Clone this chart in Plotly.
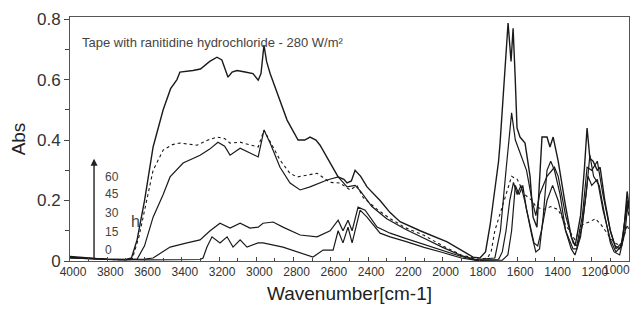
import plotly.graph_objects as go

# ---- data ----
wn_60 = [4000, 3950, 3900, 3850, 3800, 3750, 3700, 3670, 3640, 3600, 3554, 3500, 3460, 3426, 3410, 3340, 3300, 3250, 3211, 3185,
         3152, 3130, 3104, 3060, 3018, 2990, 2975, 2959, 2945, 2926, 2889, 2835, 2776, 2740, 2712, 2680, 2658, 2604, 2561, 2530,
         2513, 2490, 2470, 2440, 2406, 2336, 2282, 2229, 2121, 1976, 1900, 1837, 1800, 1770, 1745, 1730, 1700, 1692, 1665, 1649,
         1633, 1622, 1611, 1601, 1585, 1558, 1531, 1515, 1494, 1467, 1440, 1424, 1407, 1380, 1340, 1310, 1289, 1260, 1240, 1225,
         1210, 1193, 1170, 1155, 1130, 1100, 1075, 1050, 1030, 1010, 1000]
abs_60 = [0.015, 0.012, 0.010, 0.008, 0.006, 0.005, 0.005, 0.010, 0.070, 0.200, 0.377, 0.500, 0.570, 0.600, 0.625, 0.630, 0.635, 0.660, 0.674, 0.665,
          0.608, 0.625, 0.630, 0.625, 0.620, 0.598, 0.620, 0.714, 0.660, 0.620, 0.555, 0.466, 0.400, 0.400, 0.410, 0.400, 0.383, 0.324, 0.278, 0.270,
          0.258, 0.265, 0.300, 0.280, 0.245, 0.200, 0.160, 0.130, 0.100, 0.063, 0.035, 0.013, 0.010, 0.030, 0.120, 0.190, 0.330, 0.390, 0.660, 0.787,
          0.660, 0.770, 0.610, 0.440, 0.410, 0.390, 0.280, 0.145, 0.112, 0.410, 0.410, 0.377, 0.410, 0.330, 0.180, 0.080, 0.050, 0.150, 0.300, 0.440,
          0.340, 0.330, 0.300, 0.310, 0.200, 0.100, 0.050, 0.040, 0.080, 0.230, 0.180]

wn_45 = [4000, 3900, 3800, 3700, 3665, 3630, 3600, 3554, 3500, 3450, 3410, 3318, 3260, 3211, 3170, 3141, 3087, 3034, 2990, 2959,
         2930, 2873, 2820, 2781, 2720, 2674, 2604, 2551, 2497, 2460, 2427, 2350, 2282, 2200, 2100, 2000, 1900, 1800, 1760, 1740,
         1720, 1700, 1660, 1630, 1600, 1560, 1520, 1500, 1460, 1420, 1380, 1340, 1290, 1250, 1210, 1180, 1150, 1100, 1080, 1040,
         1010, 1000]
abs_45 = [0.012, 0.008, 0.005, 0.004, 0.008, 0.080, 0.170, 0.300, 0.367, 0.385, 0.390, 0.383, 0.400, 0.410, 0.405, 0.390, 0.393, 0.383, 0.377, 0.433,
          0.400, 0.334, 0.290, 0.278, 0.285, 0.290, 0.260, 0.258, 0.235, 0.250, 0.210, 0.170, 0.140, 0.110, 0.085, 0.050, 0.020, 0.005, 0.010, 0.030,
          0.100, 0.140, 0.220, 0.280, 0.270, 0.220, 0.200, 0.180, 0.170, 0.180, 0.170, 0.120, 0.070, 0.120, 0.130, 0.140, 0.120, 0.080, 0.060, 0.050,
          0.120, 0.100]

wn_30 = [4000, 3900, 3800, 3700, 3640, 3600, 3554, 3500, 3463, 3393, 3302, 3250, 3206, 3170, 3141, 3087, 3034, 2990, 2959, 2926,
         2873, 2819, 2765, 2712, 2620, 2561, 2513, 2470, 2440, 2380, 2300, 2200, 2100, 2000, 1900, 1820, 1720, 1690, 1660, 1630,
         1610, 1580, 1550, 1520, 1500, 1480, 1440, 1400, 1380, 1340, 1300, 1280, 1250, 1225, 1200, 1170, 1140, 1100, 1070, 1040,
         1010, 1000]
abs_30 = [0.010, 0.007, 0.005, 0.004, 0.006, 0.050, 0.145, 0.220, 0.278, 0.324, 0.350, 0.370, 0.393, 0.380, 0.350, 0.373, 0.357, 0.344, 0.433, 0.390,
          0.310, 0.258, 0.235, 0.245, 0.268, 0.278, 0.245, 0.250, 0.230, 0.180, 0.140, 0.105, 0.075, 0.045, 0.018, 0.005, 0.010, 0.100, 0.300, 0.490,
          0.400, 0.350, 0.300, 0.200, 0.150, 0.220, 0.280, 0.310, 0.280, 0.150, 0.060, 0.050, 0.150, 0.310, 0.300, 0.330, 0.220, 0.100, 0.040, 0.060,
          0.180, 0.150]

wn_15 = [4000, 3900, 3800, 3700, 3600, 3554, 3500, 3463, 3372, 3302, 3248, 3195, 3141, 3087, 3034, 2990, 2964, 2910, 2857, 2765,
         2674, 2604, 2561, 2535, 2508, 2486, 2454, 2416, 2352, 2282, 2200, 2100, 2000, 1900, 1820, 1700, 1680, 1660, 1640, 1620,
         1600, 1580, 1560, 1530, 1510, 1490, 1470, 1440, 1410, 1380, 1340, 1300, 1280, 1250, 1220, 1200, 1170, 1140, 1100, 1070,
         1040, 1010, 1000]
abs_15 = [0.012, 0.008, 0.006, 0.005, 0.006, 0.010, 0.030, 0.046, 0.060, 0.070, 0.100, 0.125, 0.109, 0.125, 0.109, 0.112, 0.125, 0.129, 0.112, 0.086,
          0.080, 0.100, 0.135, 0.100, 0.135, 0.100, 0.178, 0.168, 0.112, 0.092, 0.075, 0.055, 0.035, 0.015, 0.003, 0.005, 0.030, 0.100, 0.200, 0.260,
          0.220, 0.250, 0.200, 0.120, 0.060, 0.050, 0.100, 0.200, 0.250, 0.200, 0.100, 0.040, 0.040, 0.120, 0.280, 0.250, 0.270, 0.170, 0.070, 0.030,
          0.050, 0.200, 0.170]

wn_0 = [4000, 3900, 3800, 3600, 3400, 3300, 3286, 3265, 3238, 3195, 3157, 3125, 3087, 3050, 2990, 2964, 2857, 2765, 2696, 2642,
        2588, 2561, 2535, 2508, 2486, 2443, 2406, 2336, 2282, 2200, 2100, 2000, 1900, 1820, 1680, 1650, 1630, 1610, 1590, 1570,
        1550, 1520, 1500, 1480, 1460, 1440, 1420, 1400, 1370, 1340, 1310, 1290, 1260, 1230, 1210, 1190, 1160, 1130, 1100, 1080,
        1050, 1020, 1005]
abs_0 = [0.010, 0.007, 0.005, 0.004, 0.004, 0.005, 0.010, 0.046, 0.080, 0.060, 0.080, 0.046, 0.070, 0.046, 0.060, 0.060, 0.046, 0.026, 0.013, 0.036,
         0.036, 0.100, 0.060, 0.112, 0.060, 0.168, 0.145, 0.092, 0.080, 0.065, 0.045, 0.028, 0.010, 0.002, 0.003, 0.020, 0.100, 0.250, 0.220, 0.250,
         0.170, 0.080, 0.030, 0.040, 0.150, 0.300, 0.330, 0.300, 0.220, 0.100, 0.040, 0.020, 0.080, 0.220, 0.350, 0.280, 0.250, 0.150, 0.060, 0.030,
         0.020, 0.100, 0.200]

hour_labels = ["60", "45", "30", "15", "0"]
hour_label_y = [0.278, 0.220, 0.158, 0.096, 0.036]
x_tickvals = [4000, 3800, 3600, 3400, 3200, 3000, 2800, 2600, 2400, 2200, 2000, 1800, 1600, 1400, 1200, 1000]
y_tickvals = [0, 0.2, 0.4, 0.6, 0.8]
y_ticktext = ["0", "0.2", "0.4", "0.6", "0.8"]

series = [
    (wn_60, abs_60, "solid", 1.4),
    (wn_45, abs_45, "dot", 1.1),
    (wn_30, abs_30, "solid", 1.2),
    (wn_15, abs_15, "solid", 1.2),
    (wn_0, abs_0, "solid", 1.2),
]

fig = go.Figure()
for (wx, ay, dash, w), name in zip(series, hour_labels):
    fig.add_trace(go.Scatter(x=wx, y=ay, mode="lines", name=name + " h",
                             line=dict(color="#1a1a1a", width=w, dash=dash), showlegend=False))

font_main = "Liberation Sans, Arial, Helvetica, sans-serif"
font_narrow = "Liberation Sans Narrow, Arial Narrow, Liberation Sans, sans-serif"
x_tickfont = dict(family=font_narrow, size=12, color="#333")

# the last tick label sits at the window edge: it is drawn right-aligned to its tick instead
x_ticktext = [str(v) for v in x_tickvals[:-1]] + [""]

fig.update_layout(
    width=635, height=297,
    margin=dict(l=62, r=14, t=9, b=44, autoexpand=False),
    paper_bgcolor="white", plot_bgcolor="white",
    font=dict(family=font_main, color="#333333"),
)
fig.update_xaxes(
    range=[4000, 1000], autorange=False, automargin=False,
    tickmode="array", tickvals=x_tickvals, ticktext=x_ticktext,
    ticks="inside", ticklen=4, tickcolor="#444", tickwidth=1,
    minor=dict(dtick=100, ticks="inside", ticklen=3, tickcolor="#444"),
    tickfont=x_tickfont,
    ticklabelshift=-3, ticklabeloverflow="allow",
    showline=True, linecolor="#555", linewidth=1, mirror=True,
    showgrid=False, zeroline=False,
    title=dict(text="Wavenumber[cm-1]", font=dict(family=font_main, size=19, color="#222"), standoff=8),
)
fig.update_yaxes(
    range=[0, 0.807], autorange=False, automargin=False,
    tickmode="array", tickvals=y_tickvals, ticktext=y_ticktext,
    ticks="outside", ticklen=5, tickcolor="#444",
    minor=dict(dtick=0.1, tick0=0, ticks="outside", ticklen=4, tickcolor="#444"),
    tickfont=dict(family=font_main, size=17, color="#333"),
    ticklabeloverflow="allow",
    showline=True, linecolor="#555", linewidth=1, mirror=True,
    showgrid=False, zeroline=False,
    title=dict(text="Abs", font=dict(family=font_main, size=19, color="#222"), standoff=10),
)

fig.add_annotation(x=x_tickvals[-1], y=0, xref="x", yref="paper", text=str(x_tickvals[-1]),
                   showarrow=False, xanchor="right", yanchor="top", xshift=3, yshift=0,
                   font=x_tickfont)

fig.add_annotation(x=3946, y=0.724, xref="x", yref="y", text="Tape with ranitidine hydrochloride - 280 W/m²",
                   showarrow=False, xanchor="left", yanchor="middle",
                   font=dict(family=font_main, size=13, color="#444"))
fig.add_annotation(x=3871, y=0.338, ax=3871, ay=0.0, xref="x", yref="y", axref="x", ayref="y",
                   text="", showarrow=True, arrowhead=2, arrowsize=1, arrowwidth=1.4, arrowcolor="#222")
for lab, yy in zip(hour_labels, hour_label_y):
    fig.add_annotation(x=3822, y=yy, xref="x", yref="y", text=lab, showarrow=False,
                       xanchor="left", yanchor="middle", font=dict(family=font_main, size=12, color="#444"))
fig.add_annotation(x=3683, y=0.13, xref="x", yref="y", text="h", showarrow=False,
                   xanchor="left", yanchor="middle", font=dict(family=font_main, size=16, color="#444"))

fig.write_html("out.html")
